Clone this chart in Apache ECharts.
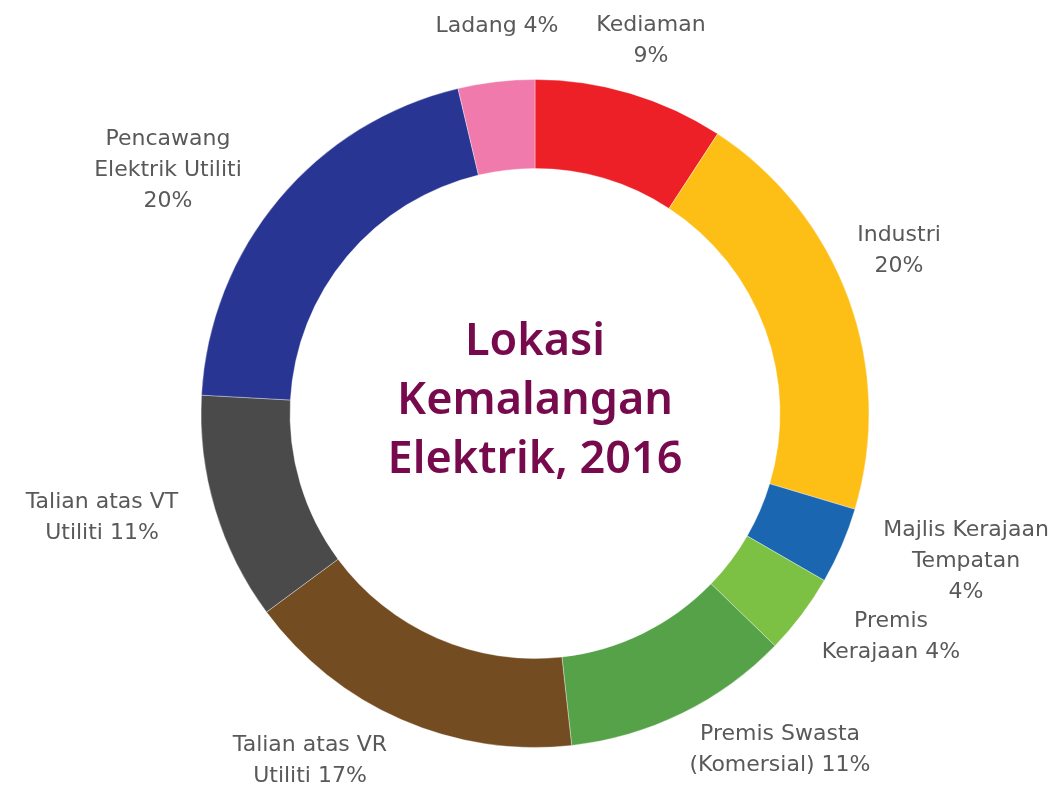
<!DOCTYPE html>
<html>
<head>
<meta charset="utf-8">
<script src="https://cdn.jsdelivr.net/npm/echarts@6/dist/echarts.min.js"></script>
<style>
html,body{margin:0;padding:0;background:#ffffff;}
#chart{width:1058px;height:791px;}
</style>
</head>
<body>
<div id="chart"></div>
<script>
// Data
var categories = ['Kediaman', 'Industri', 'Majlis Kerajaan Tempatan', 'Premis Kerajaan', 'Premis Swasta (Komersial)', 'Talian atas VR Utiliti', 'Talian atas VT Utiliti', 'Pencawang Elektrik Utiliti', 'Ladang'];
var values = [9.2, 20.4, 3.7, 3.9, 11.0, 16.6, 11.0, 20.4, 3.7];
var labelTexts = ['Kediaman\n9%', 'Industri\n20%', 'Majlis Kerajaan\nTempatan\n4%', 'Premis\nKerajaan 4%', 'Premis Swasta\n(Komersial) 11%', 'Talian atas VR\nUtiliti 17%', 'Talian atas VT\nUtiliti 11%', 'Pencawang\nElektrik Utiliti\n20%', 'Ladang 4%'];
var colors = ['#ED1F27', '#FDBE16', '#1A66B0', '#7CC143', '#55A248', '#744C22', '#4A4A4A', '#283593', '#F07AAC'];
var titleText = 'Lokasi\nKemalangan\nElektrik, 2016';

// Label placement (layout only)
var labelPos = [[651, 41], [899, 251], [966, 561], [891, 637], [780, 750], [310, 761], [102, 518], [168, 170], [497, 26]];

var chart = echarts.init(document.getElementById('chart'));
var data = categories.map(function (c, i) {
  return { name: c, value: values[i], itemStyle: { color: colors[i] }, label: { formatter: labelTexts[i] } };
});
chart.setOption({
  backgroundColor: '#ffffff',
  animation: false,
  graphic: [{
    type: 'text',
    x: 535,
    y: 401,
    style: {
      text: titleText,
      font: '600 45px "Noto Sans", sans-serif',
      fill: '#770A4D',
      align: 'center',
      verticalAlign: 'middle',
      lineHeight: 59
    }
  }],
  series: [{
    type: 'pie',
    left: 0,
    top: 0,
    width: 1400,
    height: 791,
    center: [535, 413.5],
    radius: [245, 334],
    startAngle: 90,
    clockwise: true,
    silent: true,
    itemStyle: { borderColor: 'rgba(255,255,255,0.6)', borderWidth: 0.6 },
    label: {
      show: true,
      position: 'outside',
      color: '#595959',
      fontFamily: '"DejaVu Sans", sans-serif',
      fontSize: 22,
      lineHeight: 31,
      align: 'center',
      overflow: 'none'
    },
    labelLine: { show: false },
    labelLayout: function (params) {
      var p = labelPos[params.dataIndex];
      return { x: p[0], y: p[1], align: 'center', verticalAlign: 'middle', hideOverlap: false, moveOverlap: null };
    },
    data: data
  }]
});
</script>
</body>
</html>
